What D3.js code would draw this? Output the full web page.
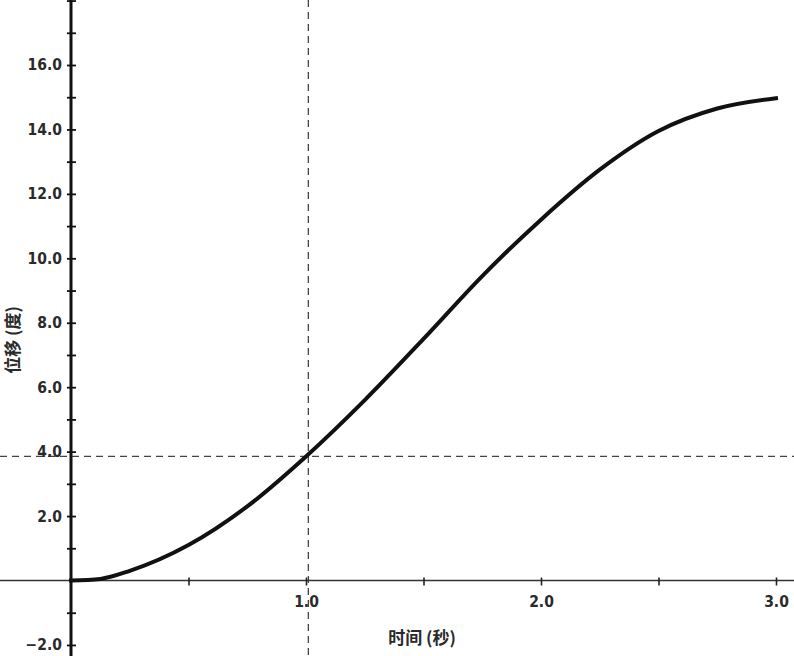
<!DOCTYPE html>
<html>
<head>
<meta charset="utf-8">
<script src="https://cdn.jsdelivr.net/npm/d3@7"></script>
<style>
  body { margin: 0; background: #fff; }
  svg { display: block; }
  .tick text { font-family: "DejaVu Sans Condensed", "DejaVu Sans", sans-serif; font-size: 15.5px; font-weight: bold; fill: #2a2a2a; }
  .axis-title { font-family: "Noto Sans CJK SC", sans-serif; font-size: 17px; font-weight: bold; fill: #2a2a2a; }
</style>
</head>
<body>
<svg id="chart"></svg>
<script>
// data: time (s) vs displacement (deg)
var times = [0, 0.125, 0.25, 0.5, 0.75, 1.0, 1.25, 1.5, 1.75, 2.0, 2.25, 2.5, 2.75, 3.0];
var displacement = [0, 0.05, 0.3, 1.1, 2.3, 3.85, 5.6, 7.5, 9.45, 11.2, 12.75, 13.95, 14.65, 14.97];

// marker (dashed guides)
var markerTime = 1.01;
var markerValue = 3.85;

// tick values
var xMajorTicks = [1.0, 2.0, 3.0];
var xMinorTicks = [0.5, 1.0, 1.5, 2.0, 2.5, 3.0];
var yMajorTicks = [-2, 2, 4, 6, 8, 10, 12, 14, 16];
var yMinorTicks = [-2, -1, 1, 2, 3, 4, 5, 6, 7, 8, 9, 10, 11, 12, 13, 14, 15, 16, 17, 18];

var xTitle = "时间 (秒)";
var yTitle = "位移 (度)";

// dimensions
var width = 794,
    height = 656;

var x = d3.scaleLinear().domain([0, 3]).range([71, 776]);
var y = d3.scaleLinear().domain([0, 16]).range([580.5, 65]);

var svg = d3.select("#chart")
    .attr("width", width)
    .attr("height", height);

// dashed guide lines
svg.append("line")
    .attr("x1", 0).attr("x2", width)
    .attr("y1", y(markerValue)).attr("y2", y(markerValue))
    .attr("stroke", "#444").attr("stroke-width", 1.3)
    .attr("stroke-dasharray", "7,5");

svg.append("line")
    .attr("x1", x(markerTime)).attr("x2", x(markerTime))
    .attr("y1", 0).attr("y2", height)
    .attr("stroke", "#444").attr("stroke-width", 1.3)
    .attr("stroke-dasharray", "7,5");

// x axis line across the whole width
svg.append("line")
    .attr("x1", 0).attr("x2", width)
    .attr("y1", y(0)).attr("y2", y(0))
    .attr("stroke", "#333").attr("stroke-width", 1.6);

// x minor ticks (cross the axis)
svg.append("g")
    .attr("transform", "translate(0," + y(0) + ")")
    .call(d3.axisBottom(x).tickValues(xMinorTicks).tickFormat(""))
    .call(function(g) {
      g.select(".domain").remove();
      g.selectAll(".tick line").attr("y1", -3).attr("y2", 5)
        .attr("stroke", "#222").attr("stroke-width", 1.6);
    });

// x labels
svg.append("g")
    .attr("transform", "translate(0," + y(0) + ")")
    .call(d3.axisBottom(x).tickValues(xMajorTicks).tickSize(0).tickPadding(15).tickFormat(d3.format(".1f")))
    .call(function(g) {
      g.select(".domain").remove();
      g.selectAll(".tick line").remove();
    });

// y axis line full height
svg.append("line")
    .attr("x1", x(0)).attr("x2", x(0))
    .attr("y1", 0).attr("y2", height)
    .attr("stroke", "#111").attr("stroke-width", 3);

// y minor ticks
svg.append("g")
    .attr("transform", "translate(" + x(0) + ",0)")
    .call(d3.axisLeft(y).tickValues(yMinorTicks).tickFormat(""))
    .call(function(g) {
      g.select(".domain").remove();
      g.selectAll(".tick line").attr("x1", -4).attr("x2", 5)
        .attr("stroke", "#111").attr("stroke-width", 1.8);
    });

// y labels
svg.append("g")
    .attr("transform", "translate(" + x(0) + ",0)")
    .call(d3.axisLeft(y).tickValues(yMajorTicks).tickSize(0).tickPadding(9).tickFormat(d3.format(".1f")))
    .call(function(g) {
      g.select(".domain").remove();
      g.selectAll(".tick line").remove();
    });

// the curve
var data = times.map(function(t, i) { return {t: t, v: displacement[i]}; });

var valueline = d3.line()
    .curve(d3.curveMonotoneX)
    .x(function(d) { return x(d.t); })
    .y(function(d) { return y(d.v); });

svg.append("path")
    .datum(data)
    .attr("d", valueline)
    .attr("fill", "none")
    .attr("stroke", "#111")
    .attr("stroke-width", 4)
    .attr("stroke-linecap", "square");

// axis titles
svg.append("text")
    .attr("class", "axis-title")
    .attr("x", 422).attr("y", 636)
    .attr("text-anchor", "middle")
    .attr("dominant-baseline", "central")
    .text(xTitle);

svg.append("text")
    .attr("class", "axis-title")
    .attr("transform", "translate(11,340) rotate(-90)")
    .attr("text-anchor", "middle")
    .attr("dominant-baseline", "central")
    .text(yTitle);
</script>
</body>
</html>
